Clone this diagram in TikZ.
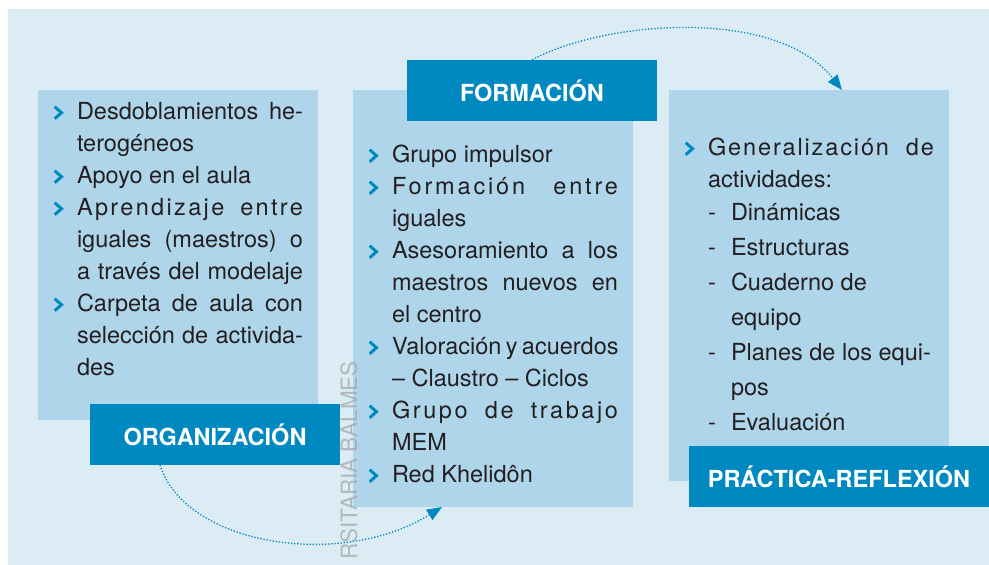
\documentclass[tikz,border=0pt]{standalone}
\usepackage{fontspec}
\setmainfont{TeX Gyre Heros}
\usetikzlibrary{arrows.meta}
\definecolor{bgc}{HTML}{DCECF5}
\definecolor{boxc}{HTML}{AFD5EA}
\definecolor{darkc}{HTML}{0088C0}
\definecolor{ink}{HTML}{231F20}
\newcommand\bodyfont{\fontsize{23.5pt}{32pt}\selectfont}
\newcommand\jw[1]{\makebox[226pt][s]{#1}}
\newcommand\ls[2]{{\addfontfeature{LetterSpace=#1}#2}}
\newcommand\tl[4]{\node[txt] (#1) at (#2,#3) {#4};}
\newcommand\chev[2]{\draw[chev] ({#1-3.8},{#2-12.3}) -- ({#1+3},{#2-6.3}) -- ({#1-3.8},{#2-0.3});}
\begin{document}
\begin{tikzpicture}[x=1pt,y=-1pt,
  panel/.style={rectangle, fill=boxc, draw=none, inner sep=0pt, outer sep=0pt},
  tag/.style={rectangle, fill=darkc, text=white, font=\fontsize{23.5pt}{28pt}\selectfont\bfseries, inner sep=0pt, outer sep=0pt, minimum height=61pt},
  txt/.style={anchor=base west, inner sep=0pt, outer sep=0pt, font=\bodyfont, text=ink},
  chev/.style={draw=darkc, line width=3pt, line join=miter, line cap=butt},
  flow/.style={draw=darkc, line width=1.3pt, dash pattern=on 1.3pt off 1.8pt, -{Triangle[length=15pt,width=12pt]}}
]
\useasboundingbox (0,0) rectangle (989,565);
\begin{scope}
\clip (0,0) rectangle (989,565);
\fill[bgc] (8,9) rectangle (989,565);

% panels
\node[panel, minimum width=280pt, minimum height=330pt] (lbox) at (178,255) {};
\node[panel, minimum width=280pt, minimum height=417pt] (mbox) at (493,298.5) {};
\node[panel, minimum width=280pt, minimum height=391pt] (rbox) at (809,285.5) {};

% tags
\node[tag, minimum width=250pt] (org) at (215,434.5) {ORGANIZACIÓN};
\node[tag, minimum width=250pt] (form) at (532,90.5) {FORMACIÓN};
\node[tag, minimum width=300pt] (prac) at (839,476.5) {PRÁCTICA-REFLEXIÓN};

% connectors
\draw[flow] ([xshift=-55pt]org.south) .. controls (185,545) and (340,570) .. ([xshift=-51pt]mbox.south);
\draw[flow] (form.north) .. controls (600,22) and (775,5) .. ([xshift=33pt]rbox.north);

% left panel text
\chev{58.5}{119}\tl{a1}{77}{119}{\jw{Desdoblamientos he-}}
\tl{a2}{77}{151}{terogéneos}
\chev{58.5}{183}\tl{a3}{77}{183}{Apoyo en el aula}
\chev{58.5}{215}\tl{a4}{77}{215}{\jw{\ls{10}{Aprendizaje entre}}}
\tl{a5}{77}{247}{\jw{iguales (maestros) o}}
\tl{a6}{77}{279}{\jw{a través del modelaje}}
\chev{58.5}{311}\tl{a7}{77}{311}{\jw{Carpeta de aula con}}
\tl{a8}{77}{343}{\jw{selección de activida-}}
\tl{a9}{77}{375}{des}

% middle panel text
\chev{373.5}{162}\tl{b1}{392}{162}{Grupo impulsor}
\chev{373.5}{194}\tl{b2}{392}{194}{\jw{\ls{12}{Formación entre}}}
\tl{b3}{392}{226}{iguales}
\chev{373.5}{258}\tl{b4}{392}{258}{\jw{Asesoramiento a los}}
\tl{b5}{392}{290}{\jw{maestros nuevos en}}
\tl{b6}{392}{322}{el centro}
\chev{373.5}{354}\tl{b7}{392}{354}{\jw{Valoración y acuerdos}}
\tl{b8}{392}{386}{– Claustro – Ciclos}
\chev{373.5}{418}\tl{b9}{392}{418}{\jw{\ls{11}{Grupo de trabajo}}}
\tl{b10}{392}{450}{MEM}
\chev{373.5}{482}\tl{b11}{392}{482}{Red Khelidôn}

% right panel text
\chev{689.5}{155}\tl{c1}{708}{155}{\jw{\ls{8}{Generalización de}}}
\tl{c2}{708}{187}{actividades:}
\tl{d3}{708}{220}{-}\tl{c3}{731}{220}{Dinámicas}
\tl{d4}{708}{255}{-}\tl{c4}{731}{255}{Estructuras}
\tl{d5}{708}{290}{-}\tl{c5}{731}{290}{Cuaderno de}
\tl{c6}{731}{325}{equipo}
\tl{d7}{708}{360}{-}\tl{c7}{731}{360}{Planes de los equi-}
\tl{c8}{731}{395}{pos}
\tl{d9}{708}{430}{-}\tl{c9}{731}{430}{Evaluación}

% watermark
\node[rotate=90, anchor=base east, inner sep=0pt, font=\fontsize{22.5pt}{22.5pt}\selectfont, text=black!35, opacity=0.75] (wm) at (357,361) {RSITARIA BALMES};
\end{scope}
\end{tikzpicture}
\end{document}
